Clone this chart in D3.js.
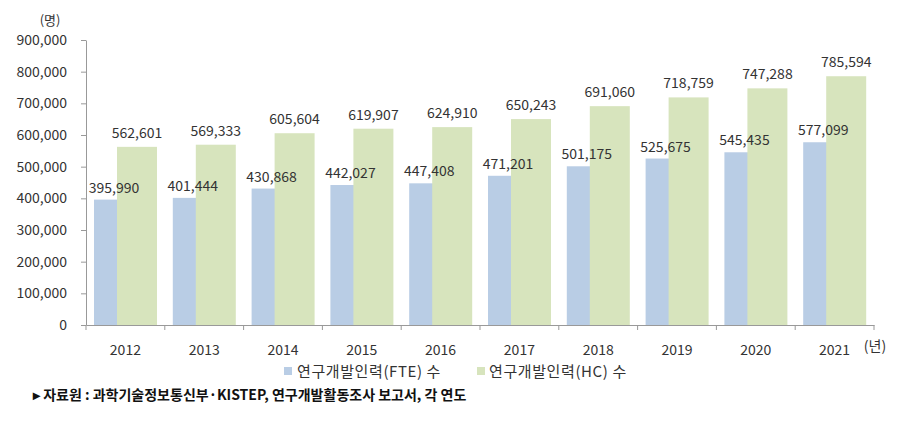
<!DOCTYPE html>
<html><head><meta charset="utf-8">
<script src="https://cdn.jsdelivr.net/npm/d3@7"></script>
<style>
body{margin:0;background:#fff;}
text{font-family:"Noto Sans CJK KR","Noto Sans",sans-serif;}
</style></head>
<body>
<svg id="c" width="917" height="434"></svg>
<script>
const years = ["2012","2013","2014","2015","2016","2017","2018","2019","2020","2021"];
const fte = [395990,401444,430868,442027,447408,471201,501175,525675,545435,577099];
const hc = [562601,569333,605604,619907,624910,650243,691060,718759,747288,785594];
const yTicks = [0,100000,200000,300000,400000,500000,600000,700000,800000,900000];
const seriesNames = ["연구개발인력(FTE) 수","연구개발인력(HC) 수"];
const colors = ["#B9CDE5","#D7E4BD"];

(function(){
const svg = d3.select("#c");
const pL = 86, pR = 874, pT = 40, pB = 325;
const x = d3.scaleBand().domain(years).range([pL, pR]).padding(0);
const y = d3.scaleLinear().domain([0, 900000]).range([pB, pT]);
const fmt = d3.format(",");
const bw = 40, offB = 8, offG = 31;
const txtCol = "#333";

const g = svg.append("g");
g.selectAll(".b").data(years).enter().append("rect")
  .attr("x", d => x(d) + offB).attr("width", bw)
  .attr("y", (d,i) => y(fte[i])).attr("height", (d,i) => pB - y(fte[i]))
  .attr("fill", colors[0]);
g.selectAll(".g").data(years).enter().append("rect")
  .attr("x", d => x(d) + offG).attr("width", bw)
  .attr("y", (d,i) => y(hc[i])).attr("height", (d,i) => pB - y(hc[i]))
  .attr("fill", colors[1]);

g.selectAll(".lb").data(years).enter().append("text")
  .attr("x", d => x(d) + offB + 20).attr("y", (d,i) => y(fte[i]) - 7)
  .attr("text-anchor","middle").attr("font-size",14).attr("fill",txtCol)
  .text((d,i) => fmt(fte[i]));
g.selectAll(".lg").data(years).enter().append("text")
  .attr("x", d => x(d) + offG + 20).attr("y", (d,i) => y(hc[i]) - 9)
  .attr("text-anchor","middle").attr("font-size",14).attr("fill",txtCol)
  .text((d,i) => fmt(hc[i]));

const ya = svg.append("g").attr("transform",`translate(${pL},0)`)
  .call(d3.axisLeft(y).tickValues(yTicks).tickFormat(fmt).tickSize(5).tickSizeOuter(0).tickPadding(14));
ya.select(".domain").attr("stroke","#999");
ya.selectAll(".tick line").attr("stroke","#999");
ya.selectAll("text").attr("font-size",14).attr("fill",txtCol);

const xa = svg.append("g").attr("transform",`translate(0,${pB})`)
  .call(d3.axisBottom(x).tickSize(0).tickPadding(20));
xa.select(".domain").attr("stroke","#999");
xa.selectAll("text").attr("font-size",14).attr("fill",txtCol);
const bounds = years.map(d => x(d)).concat([pR]);
svg.append("g").selectAll("line").data(bounds).enter().append("line")
  .attr("x1", d => d).attr("x2", d => d).attr("y1", pB).attr("y2", pB+5)
  .attr("stroke","#999");

svg.append("text").attr("x",50).attr("y",25).attr("text-anchor","middle")
  .attr("font-size",13).attr("fill",txtCol).text("(명)");
svg.append("text").attr("x",875).attr("y",351).attr("text-anchor","middle")
  .attr("font-size",14).attr("fill",txtCol).text("(년)");

const leg = [{x:284, tx:297},{x:477, tx:489}];
leg.forEach((l,i) => {
  svg.append("rect").attr("x",l.x).attr("y",367).attr("width",8).attr("height",8).attr("fill",colors[i]);
  svg.append("text").attr("x",l.tx).attr("y",377).attr("font-size",15).attr("letter-spacing",0.6)
    .attr("fill",txtCol).text(seriesNames[i]);
});

svg.append("text").attr("x",33).attr("y",400).attr("font-size",14).attr("fill","#111").attr("font-weight","bold")
  .text("▸ 자료원 : 과학기술정보통신부·KISTEP, 연구개발활동조사 보고서, 각 연도");
})();
</script>
</body></html>
